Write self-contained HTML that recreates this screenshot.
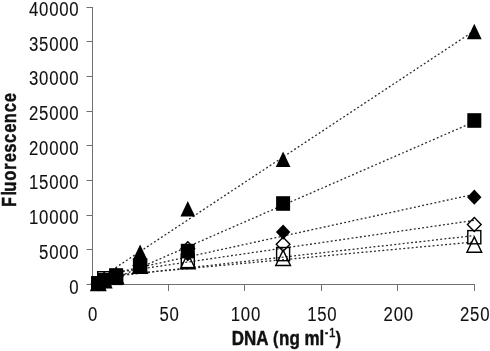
<!DOCTYPE html>
<html><head><meta charset="utf-8"><style>
html,body{margin:0;padding:0;background:#fff;}
body{width:490px;height:351px;overflow:hidden;}
svg{display:block;will-change:transform;}
.tl{font-family:"Liberation Sans",sans-serif;font-size:20.5px;fill:#111;letter-spacing:0.9px;stroke:#111;stroke-width:0.1px;}
.ti{font-family:"Liberation Sans",sans-serif;font-weight:bold;font-size:19.5px;fill:#111;stroke:#111;stroke-width:0.45px;}
</style></head><body>
<svg width="490" height="351" viewBox="0 0 490 351">
<line x1="92.5" y1="7.0" x2="92.5" y2="285.0" stroke="#707070" stroke-width="1"/>
<line x1="92" y1="284.5" x2="475.0" y2="284.5" stroke="#707070" stroke-width="1"/>
<line x1="86.5" y1="7.5" x2="92.5" y2="7.5" stroke="#707070" stroke-width="1"/><text transform="translate(28.98,16.00) scale(0.82,1)" class="tl">40000</text><line x1="86.5" y1="41.5" x2="92.5" y2="41.5" stroke="#707070" stroke-width="1"/><text transform="translate(28.98,50.69) scale(0.82,1)" class="tl">35000</text><line x1="86.5" y1="76.5" x2="92.5" y2="76.5" stroke="#707070" stroke-width="1"/><text transform="translate(28.98,85.38) scale(0.82,1)" class="tl">30000</text><line x1="86.5" y1="111.5" x2="92.5" y2="111.5" stroke="#707070" stroke-width="1"/><text transform="translate(28.98,120.06) scale(0.82,1)" class="tl">25000</text><line x1="86.5" y1="145.5" x2="92.5" y2="145.5" stroke="#707070" stroke-width="1"/><text transform="translate(28.98,154.75) scale(0.82,1)" class="tl">20000</text><line x1="86.5" y1="180.5" x2="92.5" y2="180.5" stroke="#707070" stroke-width="1"/><text transform="translate(28.98,189.44) scale(0.82,1)" class="tl">15000</text><line x1="86.5" y1="215.5" x2="92.5" y2="215.5" stroke="#707070" stroke-width="1"/><text transform="translate(28.98,224.12) scale(0.82,1)" class="tl">10000</text><line x1="86.5" y1="249.5" x2="92.5" y2="249.5" stroke="#707070" stroke-width="1"/><text transform="translate(39.06,258.81) scale(0.82,1)" class="tl">5000</text><line x1="86.5" y1="284.5" x2="92.5" y2="284.5" stroke="#707070" stroke-width="1"/><text transform="translate(69.32,293.50) scale(0.82,1)" class="tl">0</text><line x1="92.5" y1="284.5" x2="92.5" y2="291" stroke="#707070" stroke-width="1"/><text transform="translate(88.06,320.80) scale(0.82,1)" class="tl">0</text><line x1="168.5" y1="284.5" x2="168.5" y2="291" stroke="#707070" stroke-width="1"/><text transform="translate(159.42,320.80) scale(0.82,1)" class="tl">50</text><line x1="244.5" y1="284.5" x2="244.5" y2="291" stroke="#707070" stroke-width="1"/><text transform="translate(230.77,320.80) scale(0.82,1)" class="tl">100</text><line x1="321.5" y1="284.5" x2="321.5" y2="291" stroke="#707070" stroke-width="1"/><text transform="translate(307.17,320.80) scale(0.82,1)" class="tl">150</text><line x1="397.5" y1="284.5" x2="397.5" y2="291" stroke="#707070" stroke-width="1"/><text transform="translate(383.57,320.80) scale(0.82,1)" class="tl">200</text><line x1="474.5" y1="284.5" x2="474.5" y2="291" stroke="#707070" stroke-width="1"/><text transform="translate(459.97,320.80) scale(0.82,1)" class="tl">250</text>
<line x1="98" y1="276.9" x2="474" y2="242.0" stroke="#2a2a2a" stroke-width="1.3" stroke-dasharray="1.9 2.3"/><line x1="98" y1="278.0" x2="474" y2="235.6" stroke="#2a2a2a" stroke-width="1.3" stroke-dasharray="1.9 2.3"/><line x1="98" y1="275.1" x2="474" y2="220.4" stroke="#2a2a2a" stroke-width="1.3" stroke-dasharray="1.9 2.3"/><line x1="98" y1="276.5" x2="474" y2="194.3" stroke="#2a2a2a" stroke-width="1.3" stroke-dasharray="1.9 2.3"/><line x1="98" y1="285.9" x2="474" y2="121.9" stroke="#2a2a2a" stroke-width="1.3" stroke-dasharray="1.9 2.3"/><line x1="98" y1="279.3" x2="474" y2="30.9" stroke="#2a2a2a" stroke-width="1.3" stroke-dasharray="1.9 2.3"/>
<polygon points="98.30,275.10 105.65,290.50 90.95,290.50" fill="none" stroke="#000" stroke-width="1.4"/><polygon points="104.20,272.30 111.55,287.70 96.85,287.70" fill="none" stroke="#000" stroke-width="1.4"/><polygon points="116.10,268.30 123.45,283.70 108.75,283.70" fill="none" stroke="#000" stroke-width="1.4"/><polygon points="140.10,257.80 147.45,273.20 132.75,273.20" fill="none" stroke="#000" stroke-width="1.4"/><polygon points="187.80,253.30 195.15,268.70 180.45,268.70" fill="none" stroke="#000" stroke-width="1.4"/><polygon points="283.10,250.10 290.45,265.50 275.75,265.50" fill="none" stroke="#000" stroke-width="1.4"/><polygon points="474.30,236.90 481.65,252.30 466.95,252.30" fill="none" stroke="#000" stroke-width="1.4"/><rect x="91.80" y="276.90" width="13.00" height="13.20" fill="none" stroke="#000" stroke-width="1.4"/><rect x="97.70" y="271.70" width="13.00" height="13.20" fill="none" stroke="#000" stroke-width="1.4"/><rect x="109.60" y="271.20" width="13.00" height="13.20" fill="none" stroke="#000" stroke-width="1.4"/><rect x="133.60" y="258.90" width="13.00" height="13.20" fill="none" stroke="#000" stroke-width="1.4"/><rect x="181.30" y="254.40" width="13.00" height="13.20" fill="none" stroke="#000" stroke-width="1.4"/><rect x="276.60" y="247.50" width="13.00" height="13.20" fill="none" stroke="#000" stroke-width="1.4"/><rect x="467.80" y="230.60" width="13.00" height="13.20" fill="none" stroke="#000" stroke-width="1.4"/><polygon points="98.30,276.50 105.15,283.50 98.30,290.50 91.45,283.50" fill="none" stroke="#000" stroke-width="1.4"/><polygon points="104.20,273.00 111.05,280.00 104.20,287.00 97.35,280.00" fill="none" stroke="#000" stroke-width="1.4"/><polygon points="116.10,269.00 122.95,276.00 116.10,283.00 109.25,276.00" fill="none" stroke="#000" stroke-width="1.4"/><polygon points="140.10,258.50 146.95,265.50 140.10,272.50 133.25,265.50" fill="none" stroke="#000" stroke-width="1.4"/><polygon points="187.80,241.70 194.65,248.70 187.80,255.70 180.95,248.70" fill="none" stroke="#000" stroke-width="1.4"/><polygon points="283.10,237.20 289.95,244.20 283.10,251.20 276.25,244.20" fill="none" stroke="#000" stroke-width="1.4"/><polygon points="474.30,217.50 481.15,224.50 474.30,231.50 467.45,224.50" fill="none" stroke="#000" stroke-width="1.4"/><polygon points="98.30,275.90 105.50,283.50 98.30,291.10 91.10,283.50" fill="#000"/><polygon points="104.20,272.30 111.40,279.90 104.20,287.50 97.00,279.90" fill="#000"/><polygon points="116.10,269.70 123.30,277.30 116.10,284.90 108.90,277.30" fill="#000"/><polygon points="140.10,258.40 147.30,266.00 140.10,273.60 132.90,266.00" fill="#000"/><polygon points="187.80,246.40 195.00,254.00 187.80,261.60 180.60,254.00" fill="#000"/><polygon points="283.10,224.50 290.30,232.10 283.10,239.70 275.90,232.10" fill="#000"/><polygon points="474.30,189.60 481.50,197.20 474.30,204.80 467.10,197.20" fill="#000"/><rect x="91.30" y="276.20" width="14.00" height="14.60" fill="#000"/><rect x="97.20" y="272.90" width="14.00" height="14.60" fill="#000"/><rect x="109.10" y="268.20" width="14.00" height="14.60" fill="#000"/><rect x="133.10" y="259.20" width="14.00" height="14.60" fill="#000"/><rect x="180.80" y="243.80" width="14.00" height="14.60" fill="#000"/><rect x="276.10" y="196.20" width="14.00" height="14.60" fill="#000"/><rect x="467.30" y="113.20" width="14.00" height="14.60" fill="#000"/><polygon points="98.30,275.30 105.65,290.70 90.95,290.70" fill="#000"/><polygon points="104.20,272.00 111.55,287.40 96.85,287.40" fill="#000"/><polygon points="116.10,267.50 123.45,282.90 108.75,282.90" fill="#000"/><polygon points="140.10,244.60 147.45,260.00 132.75,260.00" fill="#000"/><polygon points="187.80,201.00 195.15,216.40 180.45,216.40" fill="#000"/><polygon points="283.10,151.60 290.45,167.00 275.75,167.00" fill="#000"/><polygon points="474.30,23.80 481.65,39.20 466.95,39.20" fill="#000"/>
<text class="ti" transform="translate(16.1,206.80) rotate(-90) scale(0.8,1)">F</text><text class="ti" transform="translate(16.1,195.55) rotate(-90) scale(0.85,1)">l</text><text class="ti" transform="translate(16.1,191.63) rotate(-90) scale(0.85,1)">u</text><text class="ti" transform="translate(16.1,180.76) rotate(-90) scale(0.85,1)">o</text><text class="ti" transform="translate(16.1,170.05) rotate(-90) scale(0.85,1)">r</text><text class="ti" transform="translate(16.1,162.15) rotate(-90) scale(0.85,1)">e</text><text class="ti" transform="translate(16.1,152.77) rotate(-90) scale(0.85,1)">s</text><text class="ti" transform="translate(16.1,142.99) rotate(-90) scale(0.85,1)">c</text><text class="ti" transform="translate(16.1,132.70) rotate(-90) scale(0.85,1)">e</text><text class="ti" transform="translate(16.1,123.29) rotate(-90) scale(0.85,1)">n</text><text class="ti" transform="translate(16.1,112.34) rotate(-90) scale(0.85,1)">c</text><text class="ti" transform="translate(16.1,102.30) rotate(-90) scale(0.85,1)">e</text>
<text class="ti" transform="translate(231.8,344.7) scale(0.87,1)">DNA</text>
<text class="ti" transform="translate(273.0,343.6) scale(0.9,1)" style="font-size:17.5px">(</text>
<text class="ti" transform="translate(279.1,344.7) scale(0.87,1)">ng ml</text>
<text class="ti" transform="translate(325.0,336.8) scale(0.75,1)" style="font-size:12.5px">-</text>
<text class="ti" transform="translate(329.1,336.6) scale(0.92,1)" style="font-size:12.8px;font-weight:normal;stroke-width:0.5px">1</text>
<text class="ti" transform="translate(335.8,343.6) scale(0.9,1)" style="font-size:17.5px">)</text>
</svg>
</body></html>
